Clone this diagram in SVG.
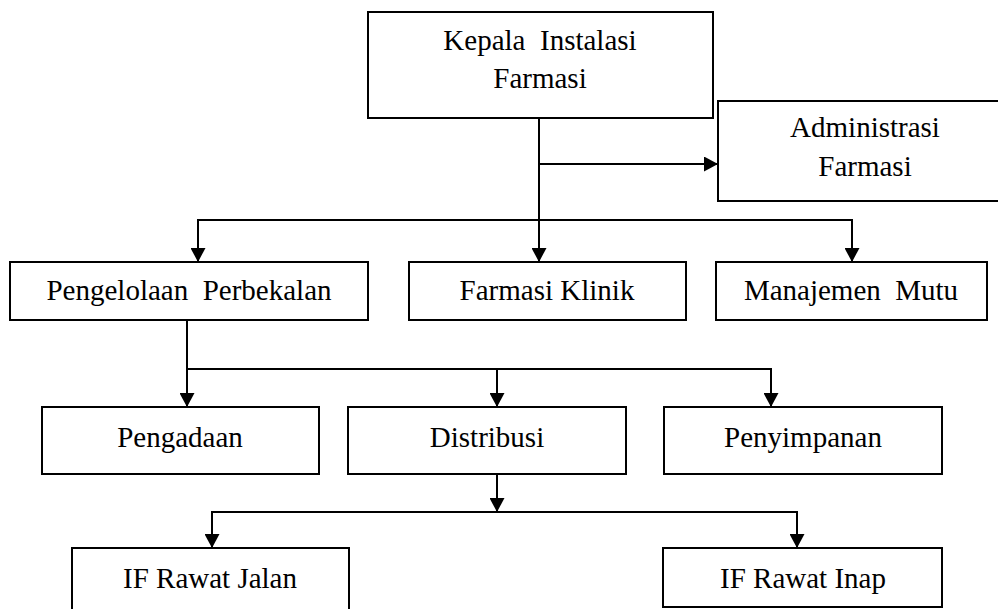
<svg xmlns="http://www.w3.org/2000/svg" width="998" height="609" viewBox="0 0 998 609">
<style>
.box{fill:#fff;stroke:#000;stroke-width:2}
.lbl{font-family:"Liberation Serif","Times New Roman",serif;font-size:29px;fill:#000;text-anchor:middle;white-space:pre}
.ln{fill:none;stroke:#000;stroke-width:2}
</style>
<defs>
<marker id="ah" markerUnits="userSpaceOnUse" markerWidth="15" markerHeight="15" refX="14" refY="7.5" orient="auto">
<path d="M0,0 L14,7.5 L0,15 z" fill="#000"/>
</marker>
</defs>
<g id="connectors">
<path class="ln" d="M539,118 V262" marker-end="url(#ah)"/>
<path class="ln" d="M539,164 H718" marker-end="url(#ah)"/>
<path class="ln" d="M198,262 V220 H852 V262" marker-end="url(#ah)"/>
<path class="ln" d="M198,220 V262" marker-end="url(#ah)"/>
<path class="ln" d="M187,320 V407" marker-end="url(#ah)"/>
<path class="ln" d="M187,369 H771 V407" marker-end="url(#ah)"/>
<path class="ln" d="M497,369 V407" marker-end="url(#ah)"/>
<path class="ln" d="M497,474 V512" marker-end="url(#ah)"/>
<path class="ln" d="M212,548 V512 H797 V548" marker-end="url(#ah)"/>
<path class="ln" d="M212,512 V548" marker-end="url(#ah)"/>
</g>
<g id="kepala">
<rect class="box" x="368" y="12" width="345" height="106"/>
<text class="lbl" x="540" y="50" xml:space="preserve">Kepala  Instalasi</text>
<text class="lbl" x="540" y="88">Farmasi</text>
</g>
<g id="administrasi">
<rect class="box" x="718" y="101" width="300" height="100"/>
<text class="lbl" x="865" y="137">Administrasi</text>
<text class="lbl" x="865" y="176">Farmasi</text>
</g>
<g id="pengelolaan">
<rect class="box" x="10" y="262" width="358" height="58"/>
<text class="lbl" x="189" y="300" xml:space="preserve">Pengelolaan  Perbekalan</text>
</g>
<g id="farmasi-klinik">
<rect class="box" x="409" y="262" width="277" height="58"/>
<text class="lbl" x="547" y="300">Farmasi Klinik</text>
</g>
<g id="manajemen-mutu">
<rect class="box" x="716" y="262" width="271" height="58"/>
<text class="lbl" x="851" y="300" xml:space="preserve">Manajemen  Mutu</text>
</g>
<g id="pengadaan">
<rect class="box" x="42" y="407" width="277" height="67"/>
<text class="lbl" x="180" y="447">Pengadaan</text>
</g>
<g id="distribusi">
<rect class="box" x="348" y="407" width="278" height="67"/>
<text class="lbl" x="487" y="447">Distribusi</text>
</g>
<g id="penyimpanan">
<rect class="box" x="664" y="407" width="278" height="67"/>
<text class="lbl" x="803" y="447">Penyimpanan</text>
</g>
<g id="if-rawat-jalan">
<rect class="box" x="72" y="548" width="277" height="70"/>
<text class="lbl" x="210" y="588">IF Rawat Jalan</text>
</g>
<g id="if-rawat-inap">
<rect class="box" x="663" y="548" width="279" height="59"/>
<text class="lbl" x="803" y="588">IF Rawat Inap</text>
</g>
</svg>
